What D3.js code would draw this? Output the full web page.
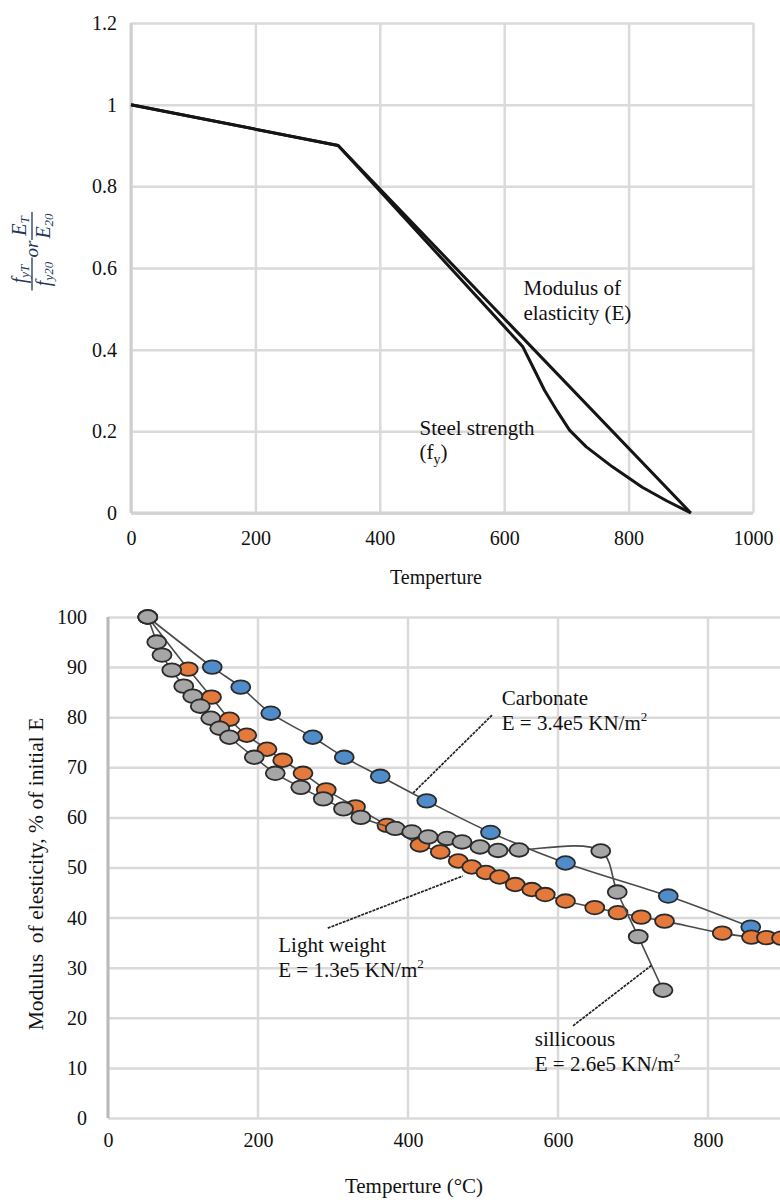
<!DOCTYPE html>
<html>
<head>
<meta charset="utf-8">
<script src="https://cdn.jsdelivr.net/npm/d3@7"></script>
<style>
  html, body { margin: 0; padding: 0; background: #fff; }
  svg text { font-family: "Liberation Serif", "DejaVu Serif", serif; }
</style>
</head>
<body>
<svg id="fig" width="780" height="1200"></svg>
<script>
// ---------- Upper panel: steel reduction factors ----------
const ratioTicks = [0, 0.2, 0.4, 0.6, 0.8, 1, 1.2];
const ratioTickLabels = ["0", "0.2", "0.4", "0.6", "0.8", "1", "1.2"];
const tempTicksUpper = [0, 200, 400, 600, 800, 1000];

const modulusTemps = [0, 333, 900];
const modulusRatio = [1.0, 0.9, 0.0];

const strengthTemps = [0, 333, 630, 648, 665, 685, 705, 732, 774, 822, 861, 900];
const strengthRatio = [1.0, 0.9, 0.407, 0.352, 0.3, 0.25, 0.203, 0.162, 0.113, 0.063, 0.03, 0.0];

// ---------- Lower panel: concrete modulus of elasticity ----------
const percentTicks = [0, 10, 20, 30, 40, 50, 60, 70, 80, 90, 100];
const tempTicksLower = [0, 200, 400, 600, 800];
const tempGridLower = [0, 200, 400, 600, 800, 1000];

const carbonateTemps = [53, 139, 177, 217, 273, 315, 363, 425, 510, 610, 747, 857];
const carbonateE = [100, 90, 86, 80.8, 76, 72, 68.2, 63.3, 57, 50.9, 44.3, 38.1];

const lightTemps = [53, 107, 138, 162, 185, 212, 233, 260, 291, 330, 372, 416, 443, 467, 485, 504, 522, 543, 565, 583, 610, 649, 680, 711, 742, 819, 858, 878, 898, 918];
const lightE = [100, 89.6, 84, 79.6, 76.4, 73.6, 71.4, 68.8, 65.5, 62.1, 58.4, 54.5, 53.1, 51.3, 50.1, 49, 48.1, 46.6, 45.6, 44.6, 43.3, 42, 41, 40.1, 39.3, 36.9, 36.1, 36, 35.9, 35.8];

const siliceousTemps = [53, 65, 72, 85, 101, 113, 123, 137, 149, 162, 195, 223, 257, 287, 314, 337, 383, 405, 427, 452, 472, 496, 520, 548, 657, 679, 707, 740];
const siliceousE = [100, 95, 92.4, 89.4, 86.2, 84.2, 82.2, 79.8, 77.8, 76, 72, 68.8, 66, 63.7, 61.7, 60, 57.8, 57.1, 56.1, 55.8, 55.1, 54.1, 53.4, 53.5, 53.3, 45.1, 36.2, 25.5];

const zip = (xs, ys) => xs.map((x, i) => ({ x, y: ys[i] }));

const SERIF = '"Liberation Serif", "DejaVu Serif", serif';
const svg = d3.select("#fig");
const GRID = "#dadada";
const FONT = 20;

function styleAxis(g) {
  g.attr("font-family", null);
  g.select(".domain").remove();
  g.selectAll(".tick line").attr("stroke", GRID).attr("stroke-width", 2.5);
  g.selectAll("text").attr("font-size", FONT).attr("fill", "#111")
    .style("font-family", SERIF);
}

// ================= Upper panel =================
const xU = d3.scaleLinear().domain([0, 1000]).range([131, 753]);
const yU = d3.scaleLinear().domain([0, 1.2]).range([513, 23]);

const upper = svg.append("g");

const gyU = upper.append("g")
  .attr("transform", `translate(${xU(0)},0)`)
  .call(d3.axisLeft(yU).tickValues(ratioTicks)
    .tickFormat((d, i) => ratioTickLabels[i])
    .tickSize(-(xU(1000) - xU(0))).tickPadding(14));
const gxU = upper.append("g")
  .attr("transform", `translate(0,${yU(0)})`)
  .call(d3.axisBottom(xU).tickValues(tempTicksUpper)
    .tickFormat(d3.format("d"))
    .tickSize(-(yU(0) - yU(1.2))));
styleAxis(gyU);
styleAxis(gxU);
gxU.selectAll("text").attr("y", 25).attr("dy", "0.35em");

// frame lines on the left and bottom
upper.append("line").attr("x1", xU(0)).attr("x2", xU(0)).attr("y1", yU(1.2)).attr("y2", yU(0))
  .attr("stroke", "#cfcfcf").attr("stroke-width", 3);
upper.append("line").attr("x1", xU(0)).attr("x2", xU(1000)).attr("y1", yU(0)).attr("y2", yU(0))
  .attr("stroke", "#d2d2d2").attr("stroke-width", 3);

const lineU = d3.line().x(d => xU(d.x)).y(d => yU(d.y));
upper.append("path").datum(zip(modulusTemps, modulusRatio))
  .attr("d", lineU).attr("fill", "none").attr("stroke", "#151515")
  .attr("stroke-width", 3).attr("stroke-linejoin", "round");
upper.append("path").datum(zip(strengthTemps, strengthRatio))
  .attr("d", lineU).attr("fill", "none").attr("stroke", "#151515")
  .attr("stroke-width", 3).attr("stroke-linejoin", "round");

// curve labels
const lblE = upper.append("text").attr("font-size", 21).attr("fill", "#111");
lblE.append("tspan").attr("x", xU(631)).attr("y", yU(0.534)).text("Modulus of");
lblE.append("tspan").attr("x", xU(631)).attr("y", yU(0.534) + 25).text("elasticity (E)");
upper.append("text").attr("font-size", 21).attr("fill", "#111")
  .attr("x", xU(464)).attr("y", yU(0.191)).text("Steel strength");
const lblS2 = upper.append("text").attr("font-size", 21).attr("fill", "#111")
  .attr("x", xU(464)).attr("y", yU(0.191) + 24);
lblS2.append("tspan").text("(f");
lblS2.append("tspan").attr("font-size", 14).attr("dy", 5).text("y");
lblS2.append("tspan").attr("dy", -5).text(")");

// axis title
upper.append("text").attr("x", 436).attr("y", 584).attr("text-anchor", "middle")
  .attr("font-size", 20).attr("fill", "#111").text("Temperture");

// rotated fraction label: f_yT / f_y20  or  E_T / E_20
const fracColor = "#22365c";
const fr = upper.append("g").attr("transform", "translate(32,251) rotate(-90)")
  .attr("fill", fracColor).attr("font-style", "italic");
function fraction(cx, w, base, sub) {
  fr.append("line").attr("x1", cx - w / 2).attr("x2", cx + w / 2).attr("y1", 0).attr("y2", 0)
    .attr("stroke", fracColor).attr("stroke-width", 1.3);
  const num = fr.append("text").attr("x", cx).attr("y", -6).attr("text-anchor", "middle").attr("font-size", 20);
  num.append("tspan").text(base);
  num.append("tspan").attr("font-size", 13).attr("dy", 3).text(sub[0]);
  const den = fr.append("text").attr("x", cx).attr("y", 18).attr("text-anchor", "middle").attr("font-size", 20);
  den.append("tspan").text(base);
  den.append("tspan").attr("font-size", 13).attr("dy", 3).text(sub[1]);
}
fraction(-23, 33, "f", ["yT", "y20"]);
fr.append("text").attr("x", 2).attr("y", 6).attr("text-anchor", "middle").attr("font-size", 19).text("or");
fraction(25, 28, "E", ["T", "20"]);

// ================= Lower panel =================
const xL = d3.scaleLinear().domain([0, 1000]).range([108, 858]);
const yL = d3.scaleLinear().domain([0, 100]).range([1118, 617]);

const lower = svg.append("g");

const gyL = lower.append("g")
  .attr("transform", `translate(${xL(0)},0)`)
  .call(d3.axisLeft(yL).tickValues(percentTicks)
    .tickFormat(d3.format("d"))
    .tickSize(-(xL(1000) - xL(0))).tickPadding(21));
// vertical grid (extends past the visible edge)
lower.append("g").selectAll("line").data(tempGridLower).join("line")
  .attr("x1", d => xL(d)).attr("x2", d => xL(d)).attr("y1", yL(100)).attr("y2", yL(0))
  .attr("stroke", GRID).attr("stroke-width", 2.5);
const gxL = lower.append("g")
  .attr("transform", `translate(0,${yL(0)})`)
  .call(d3.axisBottom(xL).tickValues(tempTicksLower)
    .tickFormat(d3.format("d")).tickSize(0));
styleAxis(gyL);
styleAxis(gxL);
gxL.selectAll("text").attr("y", 22).attr("dy", "0.35em");
lower.append("line").attr("x1", xL(0)).attr("x2", xL(0)).attr("y1", yL(100)).attr("y2", yL(0))
  .attr("stroke", "#b9b9b9").attr("stroke-width", 3);

const series = [
  { temps: carbonateTemps, vals: carbonateE, fill: "#4f8cc9" },
  { temps: lightTemps, vals: lightE, fill: "#e3793a" },
  { temps: siliceousTemps, vals: siliceousE, fill: "#a6a6a6" }
];
const lineL = d3.line().x(d => xL(d.x)).y(d => yL(d.y)).curve(d3.curveCatmullRom.alpha(0.5));

series.forEach(s => {
  const pts = zip(s.temps, s.vals);
  const g = lower.append("g");
  g.append("path").datum(pts).attr("d", lineL).attr("fill", "none")
    .attr("stroke", "#4a4a4a").attr("stroke-width", 1.6);
  g.selectAll("ellipse").data(pts).join("ellipse")
    .attr("cx", d => xL(d.x)).attr("cy", d => yL(d.y))
    .attr("rx", 9.5).attr("ry", 6.8)
    .attr("fill", s.fill).attr("stroke", "#2a2a2a").attr("stroke-width", 1.8);
});

// annotations with leader lines
const leaders = [
  { from: [512, 80.4], to: [407, 64.9] },
  { from: [293, 37.9], to: [473, 48.3] },
  { from: [620, 18.4], to: [725, 30.5] }
];
leaders.forEach(l => {
  lower.append("line")
    .attr("x1", xL(l.from[0])).attr("y1", yL(l.from[1]))
    .attr("x2", xL(l.to[0])).attr("y2", yL(l.to[1]))
    .attr("stroke", "#222").attr("stroke-width", 1.7).attr("stroke-dasharray", "3,1");
});

const notes = [
  { t: 525, v: 82.4, name: "Carbonate", e: "E = 3.4e5 KN/m" },
  { t: 227, v: 33.1, name: "Light weight", e: "E = 1.3e5 KN/m" },
  { t: 569, v: 14.4, name: "sillicoous", e: "E = 2.6e5 KN/m" }
];
notes.forEach(n => {
  const x = xL(n.t), y = yL(n.v);
  lower.append("text").attr("x", x).attr("y", y).attr("font-size", 21).attr("fill", "#111").text(n.name);
  const t2 = lower.append("text").attr("x", x).attr("y", y + 25).attr("font-size", 21).attr("fill", "#111");
  t2.append("tspan").text(n.e);
  t2.append("tspan").attr("font-size", 13).attr("dy", -9).text("2");
});

// axis titles
lower.append("text").attr("x", 414).attr("y", 1193).attr("text-anchor", "middle")
  .attr("font-size", 21).attr("fill", "#111").text("Temperture (°C)");
lower.append("text").attr("transform", "translate(43,874) rotate(-90)")
  .attr("text-anchor", "middle").attr("font-size", 21.5).attr("fill", "#111")
  .style("white-space", "pre")
  .text("Modulus  of elesticity, % of initial E");
</script>
</body>
</html>
